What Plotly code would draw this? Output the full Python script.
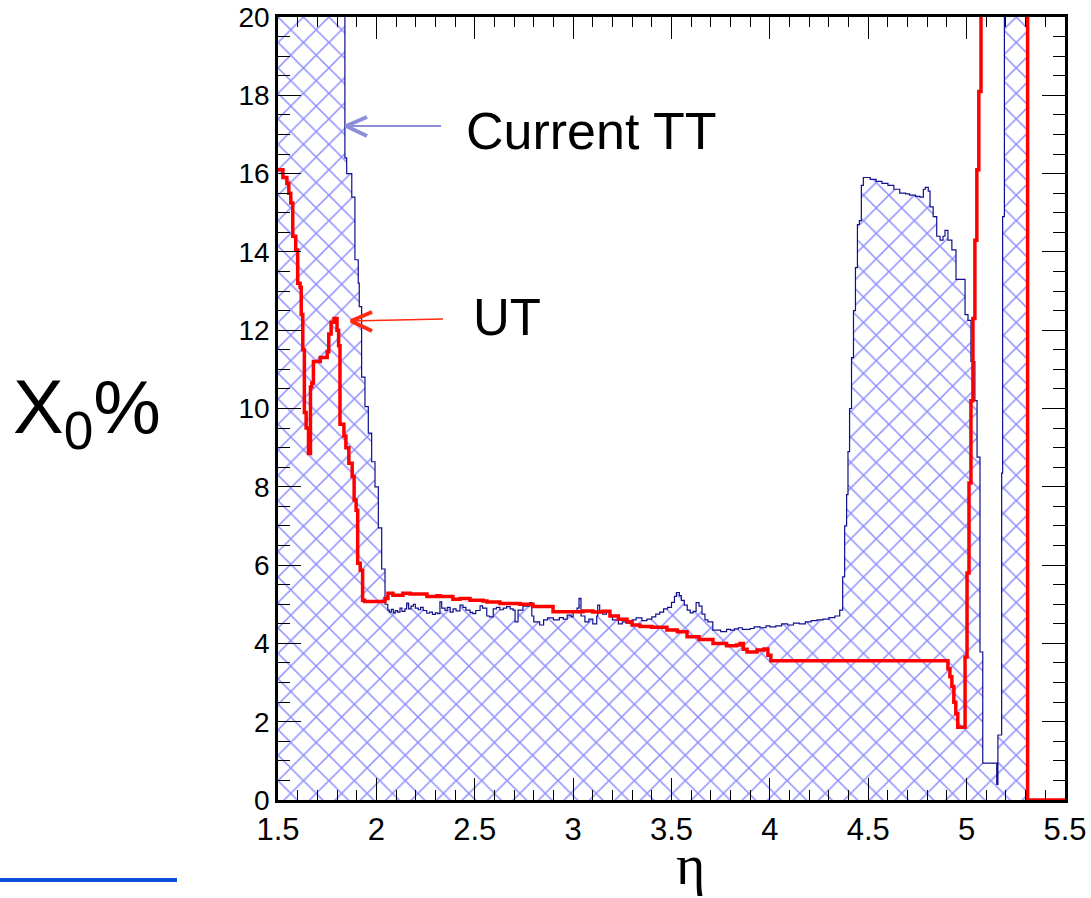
import plotly.graph_objects as go

# ---------------- data ----------------
# Current TT : histogram, left bin edges (eta) and material (X0 %), 30 = off scale
tt_eta = [1.500, 1.840, 1.849, 1.875, 1.891, 1.908, 1.913, 1.925, 1.942, 1.959,
          1.976, 1.993, 2.010, 2.027, 2.044, 2.058, 2.066, 2.076, 2.086, 2.096,
          2.108, 2.120, 2.130, 2.145, 2.154, 2.164, 2.176, 2.188, 2.198, 2.213,
          2.225, 2.238, 2.256, 2.270, 2.285, 2.300, 2.312, 2.323, 2.332, 2.349,
          2.360, 2.375, 2.390, 2.405, 2.425, 2.440, 2.455, 2.476, 2.490, 2.505,
          2.527, 2.540, 2.561, 2.575, 2.594, 2.610, 2.628, 2.645, 2.662, 2.680,
          2.695, 2.705, 2.720, 2.745, 2.780, 2.790, 2.800, 2.830, 2.850, 2.870,
          2.900, 2.930, 2.950, 2.970, 2.990, 3.000, 3.020, 3.030, 3.040, 3.060,
          3.080, 3.100, 3.120, 3.125, 3.135, 3.150, 3.170, 3.190, 3.200, 3.230,
          3.250, 3.270, 3.300, 3.320, 3.350, 3.375, 3.400, 3.420, 3.440, 3.460,
          3.480, 3.500, 3.515, 3.525, 3.540, 3.550, 3.565, 3.580, 3.595, 3.610,
          3.625, 3.640, 3.655, 3.670, 3.685, 3.710, 3.750, 3.780, 3.800, 3.820,
          3.840, 3.860, 3.900, 3.920, 3.950, 3.980, 4.000, 4.030, 4.060, 4.090,
          4.120, 4.150, 4.180, 4.210, 4.240, 4.270, 4.300, 4.330, 4.355, 4.370,
          4.380, 4.390, 4.397, 4.405, 4.415, 4.425, 4.435, 4.445, 4.455, 4.465,
          4.475, 4.490, 4.510, 4.540, 4.570, 4.600, 4.630, 4.660, 4.690, 4.710,
          4.740, 4.763, 4.780, 4.790, 4.805, 4.814, 4.830, 4.848, 4.865, 4.880,
          4.890, 4.905, 4.925, 4.946, 4.992, 5.007, 5.022, 5.042, 5.053, 5.068,
          5.082, 5.153, 5.159, 5.178, 5.183, 5.192, 5.310, 5.500]
tt_x0 = [30.0, 16.4, 16.0, 15.4, 13.8, 13.2, 12.6, 10.8, 10.05, 9.37,
         8.64, 8.0, 6.95, 5.9, 5.0, 4.85, 4.8, 4.87, 4.78, 4.84,
         4.8, 4.9, 4.82, 4.88, 5.03, 4.88, 4.95, 5.0, 4.9, 4.86,
         4.92, 4.84, 4.77, 4.8, 4.74, 4.78, 4.76, 5.06, 4.9, 4.84,
         4.92, 4.8, 4.88, 4.83, 4.98, 4.92, 4.85, 4.79, 4.76, 4.84,
         4.96, 4.9, 4.7, 4.68, 4.88, 4.92, 4.86, 4.9, 4.94, 4.88,
         4.85, 4.55, 4.85, 4.95, 5.04, 4.7, 4.55, 4.47, 4.6, 4.65,
         4.6, 4.66, 4.62, 4.72, 4.68, 4.8, 4.9, 5.15, 4.7, 4.55,
         4.62, 4.5, 4.7, 4.98, 4.8, 4.75, 4.8, 4.7, 4.6, 4.5,
         4.55, 4.52, 4.6, 4.65, 4.58, 4.62, 4.68, 4.75, 4.8, 4.88,
         4.92, 5.05, 5.2, 5.3, 5.22, 5.1, 4.98, 4.85, 4.78, 4.82,
         5.04, 4.95, 4.75, 4.6, 4.55, 4.34, 4.3, 4.36, 4.34, 4.37,
         4.4, 4.36, 4.38, 4.42, 4.4, 4.45, 4.42, 4.45, 4.5, 4.47,
         4.52, 4.5, 4.55, 4.58, 4.6, 4.62, 4.66, 4.7, 4.85, 5.7,
         7.0, 7.8, 8.9, 10.0, 11.3, 12.5, 13.6, 14.7, 14.8, 15.7,
         15.9, 15.9, 15.85, 15.8, 15.75, 15.7, 15.6, 15.5, 15.48, 15.45,
         15.42, 15.4, 15.6, 15.65, 15.55, 15.15, 14.9, 14.4, 14.3, 14.4,
         14.55, 14.3, 14.05, 13.3, 12.4, 12.25, 11.2, 10.2, 8.76, 3.78,
         0.94, 0.4, 1.66, 8.35, 14.9, 30.0, 0.0, 0.0]

# UT : histogram, left bin edges (eta) and material (X0 %), 30 = off scale
ut_eta = [1.500, 1.525, 1.545, 1.555, 1.565, 1.575, 1.590, 1.600, 1.612, 1.618,
          1.626, 1.634, 1.643, 1.655, 1.665, 1.672, 1.680, 1.700, 1.715, 1.735,
          1.750, 1.758, 1.770, 1.785, 1.800, 1.808, 1.815, 1.835, 1.845, 1.860,
          1.877, 1.887, 1.897, 1.905, 1.918, 1.930, 1.940, 2.044, 2.059, 2.084,
          2.135, 2.171, 2.257, 2.308, 2.323, 2.389, 2.425, 2.476, 2.542, 2.562,
          2.628, 2.730, 2.796, 2.898, 2.969, 3.050, 3.100, 3.150, 3.187, 3.230,
          3.274, 3.300, 3.340, 3.400, 3.477, 3.530, 3.579, 3.640, 3.711, 3.780,
          3.830, 3.848, 3.865, 3.884, 3.935, 3.970, 3.990, 4.005, 4.905, 4.915,
          4.925, 4.935, 4.945, 4.955, 4.992, 5.002, 5.012, 5.022, 5.032, 5.042,
          5.052, 5.062, 5.073, 5.310, 5.500]
ut_x0 = [16.1, 15.9, 15.75, 15.5, 15.25, 14.4, 14.05, 13.2, 13.1, 12.4,
         11.5, 9.9, 9.5, 8.85, 10.55, 10.65, 11.2, 11.2, 11.3, 11.3,
         11.45, 11.9, 12.2, 12.3, 12.0, 11.6, 9.6, 9.3, 9.0, 8.6,
         8.26, 7.66, 7.4, 6.05, 5.87, 5.1, 5.07, 5.15, 5.28, 5.23,
         5.28, 5.26, 5.2, 5.22, 5.2, 5.13, 5.15, 5.1, 5.08, 5.06,
         5.02, 5.0, 4.94, 4.81, 4.81, 4.83, 4.8, 4.82, 4.7, 4.62,
         4.55, 4.47, 4.43, 4.41, 4.34, 4.3, 4.17, 4.1, 4.0, 3.94,
         3.96, 4.0, 3.85, 3.78, 3.83, 3.86, 3.7, 3.56, 3.35, 3.15,
         2.9, 2.5, 2.2, 1.86, 3.65, 5.8, 8.1, 10.2, 12.3, 14.3,
         16.1, 18.1, 30.0, 0.0, 0.0]

x_ticks = [1.5, 2, 2.5, 3, 3.5, 4, 4.5, 5, 5.5]
y_ticks = [0, 2, 4, 6, 8, 10, 12, 14, 16, 18, 20]

# ---------------- layout geometry (pixels of the 1091x898 page) ----------------
W, H = 1091, 898
L, R, T, B = 278, 1065, 17, 800


def px(xp):
    return (xp - L) / (R - L)


def py(yp):
    return (B - yp) / (B - T)


fig = go.Figure()

fig.add_trace(go.Scatter(
    x=tt_eta, y=tt_x0, mode="lines", line_shape="hv",
    line=dict(color="#10108c", width=1.2),
    fill="tozeroy", fillcolor="rgba(0,0,0,0)",
    fillpattern=dict(shape="x", fgcolor="#1a1aff", bgcolor="rgba(0,0,0,0)",
                     size=18, solidity=0.16),
    name="Current TT", showlegend=False, hoverinfo="skip"))

fig.add_trace(go.Scatter(
    x=ut_eta, y=ut_x0, mode="lines", line_shape="hv",
    line=dict(color="#ff0000", width=3.5),
    name="UT", showlegend=False, hoverinfo="skip"))

font = "Liberation Sans, Arial, Helvetica, sans-serif"

fig.update_xaxes(range=[1.5, 5.5], tickvals=x_ticks,
                 ticktext=[f"{v:g}" for v in x_ticks],
                 ticks="inside", ticklen=22, tickwidth=1.2, tickcolor="black",
                 minor=dict(dtick=0.1, tick0=1.5, ticks="inside", ticklen=10,
                            tickwidth=1.2, tickcolor="black", showgrid=False),
                 showline=True, linecolor="black", linewidth=3, mirror="ticks",
                 showgrid=False, zeroline=False, automargin=False,
                 tickfont=dict(family=font, size=31, color="black"))
fig.update_yaxes(range=[0, 20], tickvals=y_ticks,
                 ticktext=[str(v) for v in y_ticks],
                 ticks="inside", ticklen=23, tickwidth=1.2, tickcolor="black",
                 minor=dict(dtick=0.5, tick0=0, ticks="inside", ticklen=12,
                            tickwidth=1.2, tickcolor="black", showgrid=False),
                 showline=True, linecolor="black", linewidth=2.5, mirror="ticks",
                 showgrid=False, zeroline=False, automargin=False,
                 tickfont=dict(family=font, size=28, color="black"))

annotations = [
    dict(text="η", x=px(690), y=py(865), xref="paper", yref="paper",
         xanchor="center", yanchor="middle", showarrow=False,
         font=dict(family="Liberation Serif, Times New Roman, serif", size=56, color="black")),
    dict(text="X<sub>0</sub>%", x=px(11), y=py(412), xref="paper", yref="paper",
         xanchor="left", yanchor="middle", showarrow=False,
         font=dict(family=font, size=76, color="black")),
    dict(text="Current TT", x=px(464), y=py(131), xref="paper", yref="paper",
         xanchor="left", yanchor="middle", showarrow=False,
         font=dict(family=font, size=52, color="black")),
    dict(text="UT", x=px(471), y=py(317), xref="paper", yref="paper",
         xanchor="left", yanchor="middle", showarrow=False,
         font=dict(family=font, size=51, color="black")),
]


def seg(x0, y0, x1, y1, color, width):
    return dict(type="line", xref="paper", yref="paper",
                x0=px(x0), y0=py(y0), x1=px(x1), y1=py(y1),
                line=dict(color=color, width=width), layer="above")


lav = "#8e8ed8"
red = "#ff2a10"
shapes = [
    seg(345, 126, 441, 126, lav, 2),
    seg(346, 126, 367, 117, lav, 4),
    seg(346, 126, 367, 136, lav, 4),
    seg(350, 321, 443, 319, red, 1.6),
    seg(351, 321, 372, 312, red, 4),
    seg(351, 321, 372, 331, red, 4),
    seg(0, 880, 177, 880, "#0a50d6", 4),
]

fig.update_layout(width=W, height=H,
                  margin=dict(l=L, r=W - R, t=T, b=H - B, pad=0),
                  paper_bgcolor="white", plot_bgcolor="white",
                  annotations=annotations, shapes=shapes,
                  showlegend=False)

fig.write_html("out.html")
